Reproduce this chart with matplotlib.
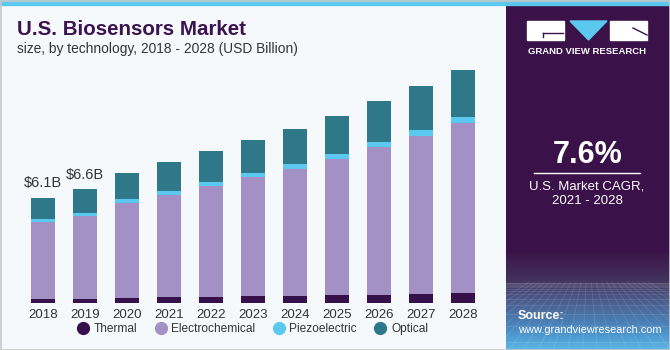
import numpy as np
import matplotlib
matplotlib.use("Agg")
import matplotlib.pyplot as plt
from matplotlib.patches import Rectangle, Polygon
from matplotlib.lines import Line2D

plt.rcParams['font.family'] = ['Liberation Sans', 'DejaVu Sans']

years = ["2018", "2019", "2020", "2021", "2022", "2023", "2024", "2025", "2026", "2027", "2028"]
thermal = [0.27, 0.27, 0.32, 0.35, 0.38, 0.40, 0.44, 0.48, 0.50, 0.54, 0.58]
electrochemical = [4.45, 4.80, 5.49, 5.93, 6.42, 6.90, 7.34, 7.86, 8.54, 9.15, 9.86]
piezoelectric = [0.16, 0.17, 0.20, 0.23, 0.23, 0.25, 0.25, 0.29, 0.31, 0.35, 0.35]
optical = [1.23, 1.35, 1.50, 1.64, 1.77, 1.89, 2.04, 2.18, 2.35, 2.54, 2.72]
bar_labels = {0: "$6.1B", 1: "$6.6B"}

series = [("Thermal", thermal, "#36104a"),
          ("Electrochemical", electrochemical, "#a391c5"),
          ("Piezoelectric", piezoelectric, "#5bc8f0"),
          ("Optical", optical, "#2e788a")]

W, H = 670, 350
BG = "#f5f9fc"
PURPLE = "#3a1148"

fig = plt.figure(figsize=(W / 100, H / 100), dpi=100)
fig.patch.set_facecolor(BG)

def fx(px):
    return px / W

def fy(py):
    return 1 - py / H

# top cyan stripe + border
fig.patches.append(Rectangle((0, fy(5)), 1, 5 / H, transform=fig.transFigure,
                             color="#5bc8f0", zorder=0))
fig.patches.append(Rectangle((0.5 / W, 0.5 / H), 1 - 1 / W, 1 - 1 / H, transform=fig.transFigure,
                             fill=False, edgecolor="#c8c8c8", lw=1.2, zorder=5))

# main chart axes
x = np.arange(len(years))
ax = fig.add_axes([fx(21.8), fy(303.3), fx(462), (303.3 - 60) / H])
ax.patch.set_alpha(0)
ax.set_xlim(-0.5, len(years) - 0.5)
ax.set_ylim(0, (303.3 - 60) / 17.3)
bottom = np.zeros(len(years))
handles = []
for name, vals, col in series:
    ax.bar(x, vals, width=0.58, bottom=bottom, color=col, edgecolor="none", zorder=2)
    bottom += np.array(vals)
    handles.append(Line2D([], [], marker="o", ls="none", markersize=8.5,
                          markerfacecolor=col, markeredgecolor=col, label=name))
for i, txt in bar_labels.items():
    ax.text(x[i], bottom[i] + 0.85, txt, ha="center", va="center", fontsize=10.5, color="#333333")
ax.set_xticks(x)
ax.set_xticklabels(years, fontsize=9.5, color="#333333")
ax.tick_params(axis="x", length=0, pad=4)
ax.set_yticks([])
for s in ax.spines.values():
    s.set_visible(False)

fig.legend(handles=handles, loc="center", bbox_to_anchor=(fx(252.5), fy(329)), ncol=4,
           frameon=False, fontsize=8.6, handlelength=1.0, handletextpad=0.4,
           columnspacing=1.45, labelcolor="#333333")

# title
fig.text(fx(17), fy(35), "U.S. Biosensors Market", fontsize=14.8, fontweight="bold",
         color="#3b1350", va="baseline")
fig.text(fx(17), fy(49.5), "size, by technology, 2018 - 2028 (USD Billion)", fontsize=9.9,
         color="#333333", va="center")

# right panel (y in pixels, 5 .. 350)
pax = fig.add_axes([fx(506), 0, 1 - fx(506), 1 - 5 / H])
pax.axis("off")
stops_y = [5, 250, 282, 300, 330, 350]
stops_c = ["#3a1148", "#3a1148", "#44355f", "#4a5a8a", "#4a8cc4", "#5ab8e6"]
py = np.linspace(5, 350, 345)
rgb = np.array([matplotlib.colors.to_rgb(c) for c in stops_c])
grad = np.stack([np.interp(py, stops_y, rgb[:, k]) for k in range(3)], axis=1)
pax.imshow(grad[:, None, :], extent=[506, 670, 350, 5], aspect="auto", zorder=0)
# faint perspective grid in the lower band
for gy in np.geomspace(1, 60, 14):
    pax.plot([506, 670], [282 + gy, 282 + gy], color="white", alpha=0.12, lw=0.6, zorder=1)
for gx in np.linspace(420, 760, 24):
    pax.plot([588 + (gx - 588) * 0.35, gx], [282, 350], color="white", alpha=0.12, lw=0.6, zorder=1)
pax.set_xlim(506, 670)
pax.set_ylim(350, 5)
pax.set_zorder(-1)

# logo
fig.patches.append(Rectangle((fx(527), fy(40)), fx(36.5), 19 / H, transform=fig.transFigure,
                             color="white", zorder=3))
fig.patches.append(Rectangle((fx(610), fy(40)), fx(37), 19 / H, transform=fig.transFigure,
                             color="white", zorder=3))
fig.patches.append(Polygon([(fx(570), fy(21)), (fx(607), fy(21)), (fx(588.5), fy(40))],
                           transform=fig.transFigure, color="#5bc8f0", zorder=3))
fig.lines.append(Line2D([fx(543), fx(563)], [fy(33), fy(33)], transform=fig.transFigure,
                        color=PURPLE, lw=1, zorder=4))
fig.lines.append(Line2D([fx(543), fx(543)], [fy(33), fy(37)], transform=fig.transFigure,
                        color=PURPLE, lw=1, zorder=4))
fig.lines.append(Line2D([fx(633), fx(647)], [fy(28), fy(35)], transform=fig.transFigure,
                        color=PURPLE, lw=1, zorder=4))
fig.text(fx(587), fy(51.5), "GRAND VIEW RESEARCH", fontsize=6.8, fontweight="bold",
         color="white", ha="center", va="center")

fig.text(fx(588), fy(155), "7.6%", fontsize=22, fontweight="bold", color="white",
         ha="center", va="center")
fig.lines.append(Line2D([fx(534), fx(640)], [fy(173.3), fy(173.3)], transform=fig.transFigure,
                        color="white", lw=1))
fig.text(fx(587), fy(186), "U.S. Market CAGR,", fontsize=9.5, color="white",
         ha="center", va="center")
fig.text(fx(587), fy(201), "2021 - 2028", fontsize=9.5, color="white",
         ha="center", va="center")
fig.text(fx(518), fy(316), "Source:", fontsize=9, fontweight="bold", color="white",
         va="center")
fig.text(fx(518), fy(330), "www.grandviewresearch.com", fontsize=7.9, color="white",
         va="center")

fig.savefig("out.png", dpi=100, facecolor=fig.get_facecolor())
